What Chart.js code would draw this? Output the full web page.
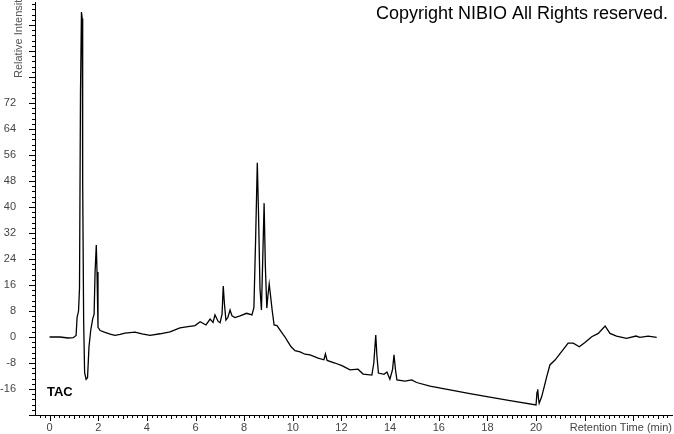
<!DOCTYPE html>
<html>
<head>
<meta charset="utf-8">
<script src="https://cdn.jsdelivr.net/npm/chart.js@4"></script>
<style>
body { margin: 0; background: #fff; }
#wrap { width: 674px; height: 434px; position: relative; }
</style>
</head>
<body>
<div id="wrap"><canvas id="tac"></canvas></div>
<script>
// retention time (min) and relative intensity
const retentionTimes = [
    0.00, 0.43, 0.76, 0.97, 1.09, 1.13, 1.19, 1.23, 1.27, 1.31, 1.34, 1.36, 1.40, 1.44, 1.50, 1.56,
    1.62, 1.69, 1.77, 1.83, 1.87, 1.92, 1.95, 1.99, 2.08, 2.28, 2.49, 2.69, 2.90, 3.10, 3.51, 3.80,
    4.13, 4.54, 4.95, 5.36, 5.69, 5.98, 6.19, 6.43, 6.60, 6.72, 6.80, 6.93, 7.01, 7.09, 7.14, 7.19,
    7.25, 7.33, 7.42, 7.50, 7.62, 7.83, 8.10, 8.32, 8.40, 8.47, 8.54, 8.59, 8.65, 8.71, 8.75, 8.82,
    8.87, 8.93, 8.98, 9.03, 9.08, 9.15, 9.23, 9.35, 9.47, 9.60, 9.68, 9.80, 9.93, 10.09, 10.30, 10.50,
    10.71, 11.04, 11.28, 11.34, 11.41, 11.73, 12.02, 12.35, 12.68, 12.89, 13.25, 13.33, 13.41, 13.46,
    13.52, 13.75, 13.87, 13.99, 14.10, 14.16, 14.22, 14.28, 14.61, 14.89, 15.09, 15.64, 16.46, 17.28,
    18.10, 18.93, 20.00, 20.04, 20.07, 20.10, 20.13, 20.23, 20.33, 20.44, 20.57, 20.78, 21.05, 21.32,
    21.53, 21.78, 22.01, 22.29, 22.56, 22.84, 23.04, 23.31, 23.72, 24.11, 24.27, 24.61, 24.96
];
const intensity = [
    0, 0, -0.3, -0.2, 0.5, 6, 8, 15, 75, 100, 98, 48, 5, -11, -13, -12.5,
    -3, 2, 5.5, 7, 20, 28.3, 20, 3, 2, 1.4, 0.9, 0.5, 0.8, 1.2, 1.5, 1.0,
    0.5, 1.0, 1.6, 2.8, 3.2, 3.5, 4.7, 3.7, 5.5, 4.5, 6.8, 4.8, 4.4, 7, 15.7, 10,
    5.2, 6, 8.3, 6.5, 6.0, 6.5, 7.3, 6.8, 9, 30, 53.6, 38, 15, 8.3, 20, 41.2,
    22, 8.9, 13, 16.3, 13, 8.3, 3.7, 3.5, 2.2, 0.8, 0, -1.5, -3, -4.2, -4.6, -5.3,
    -5.5, -6.5, -7, -5.2, -7.2, -8, -8.8, -10.1, -9.9, -11.4, -11.7, -8, 0.6, -6,
    -11.1, -11.5, -10.8, -13, -10, -5.5, -10, -13.2, -13.6, -13.2, -14, -15.1, -16.3, -17.4,
    -18.5, -19.6, -20.9, -17, -16.1, -19, -20.4, -18.4, -15.5, -12.2, -8.6, -7.1, -4.5, -1.9,
    -1.9, -3.0, -1.7, 0.1, 1.1, 3.4, 1.1, 0.3, -0.4, 0.3, -0.1, 0.3, -0.1
];
const xTickLabels = [0, 2, 4, 6, 8, 10, 12, 14, 16, 18, 20];
const yTickLabels = [-16, -8, 0, 8, 16, 24, 32, 40, 48, 56, 64, 72];

const fontFamily = '"Liberation Sans", Arial, sans-serif';
Chart.defaults.font.family = fontFamily;
Chart.defaults.font.size = 11;

// minor tick marks + free text (axis titles, copyright, TAC label)
const axisMarks = {
    id: 'axisMarks',
    afterDraw(chart) {
        const { ctx, chartArea } = chart;
        const x = chart.scales.x, y = chart.scales.y;
        ctx.save();
        ctx.strokeStyle = '#000';
        ctx.lineWidth = 1;
        ctx.beginPath();
        for (let i = Math.ceil(x.min / 0.2); i * 0.2 <= x.max; i++) {
            const px = Math.round(x.getPixelForValue(i * 0.2)) + 0.5;
            const len = i % 10 === 0 ? 6 : (i % 5 === 0 ? 4 : 3);
            ctx.moveTo(px, chartArea.bottom);
            ctx.lineTo(px, chartArea.bottom + len);
        }
        for (let i = Math.ceil(y.min / 1.6); i * 1.6 <= y.max; i++) {
            const py = Math.round(y.getPixelForValue(i * 1.6)) + 0.5;
            const len = i % 5 === 0 ? 6 : 3;
            ctx.moveTo(chartArea.left, py);
            ctx.lineTo(chartArea.left - len, py);
        }
        ctx.stroke();

        ctx.fillStyle = '#000';
        ctx.font = '18px ' + fontFamily;
        ctx.textAlign = 'right';
        ctx.textBaseline = 'middle';
        ctx.fillText('Copyright NIBIO All Rights reserved.', 668, 14);

        ctx.font = 'bold 13px ' + fontFamily;
        ctx.textAlign = 'left';
        ctx.fillText('TAC', 47, 392);

        ctx.fillStyle = '#444';
        ctx.font = '11px ' + fontFamily;
        ctx.textAlign = 'right';
        ctx.fillText('Retention Time (min)', 672, 428);

        ctx.translate(19, 78);
        ctx.rotate(-Math.PI / 2);
        ctx.textAlign = 'left';
        ctx.fillStyle = '#555';
        ctx.fillText('Relative Intensity', 0, 0);
        ctx.restore();
    }
};

new Chart(document.getElementById('tac'), {
    type: 'line',
    data: {
        datasets: [{
            data: retentionTimes.map((t, i) => ({ x: t, y: intensity[i] })),
            borderColor: '#000',
            borderWidth: 1.3,
            pointRadius: 0,
            tension: 0,
            fill: false
        }]
    },
    options: {
        responsive: true,
        maintainAspectRatio: false,
        animation: false,
        layout: { padding: { top: 2, right: 2, left: 0, bottom: 0 } },
        plugins: {
            legend: { display: false },
            tooltip: { enabled: false }
        },
        scales: {
            x: {
                type: 'linear',
                min: -0.6,
                max: 25.59,
                afterFit: (scale) => {
                    scale.height = 19;
                    scale.paddingLeft = 0;
                    scale.paddingRight = 0;
                },
                afterBuildTicks: (scale) => { scale.ticks = xTickLabels.map(v => ({ value: v })); },
                grid: { display: false, drawTicks: false },
                border: { display: true, color: '#000', width: 1 },
                ticks: { color: '#444', padding: 6, maxRotation: 0, autoSkip: false }
            },
            y: {
                min: -24,
                max: 103.1,
                afterFit: (scale) => {
                    scale.width = 35;
                    scale.paddingTop = 0;
                    scale.paddingBottom = 0;
                },
                afterBuildTicks: (scale) => { scale.ticks = yTickLabels.map(v => ({ value: v })); },
                grid: { display: false, drawTicks: false },
                border: { display: true, color: '#000', width: 1 },
                ticks: { color: '#444', padding: 19, autoSkip: false }
            }
        }
    },
    plugins: [axisMarks]
});
</script>
</body>
</html>
